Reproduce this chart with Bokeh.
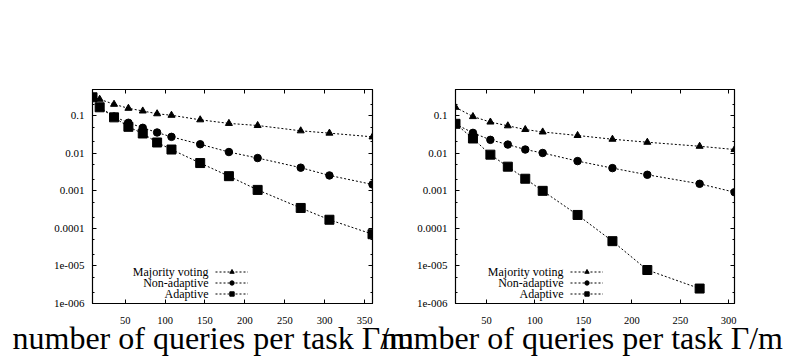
from bokeh.plotting import figure
from bokeh.layouts import row
from bokeh.models import (Label, Legend, LegendItem, FixedTicker, Title,
                          LogAxis, LinearAxis, Range1d)
from bokeh.embed import file_html
from bokeh.resources import INLINE

# ---- data: probability of error vs. number of queries per task ----
left_x = [9, 18, 36, 54, 72, 90, 108, 144, 180, 216, 270, 306, 360]
left_majority = [0.31, 0.275, 0.202, 0.158, 0.134, 0.113, 0.103, 0.078,
                 0.0625, 0.055, 0.0397, 0.0344, 0.0274]
left_nonadaptive = [0.31, 0.17, 0.095, 0.065, 0.0477, 0.0358, 0.0274, 0.0174,
                    0.0108, 0.00748, 0.00414, 0.00257, 0.00148]
left_adaptive = [0.31, 0.168, 0.0906, 0.0507, 0.0337, 0.0194, 0.0126, 0.0055,
                 0.00246, 0.00106, 0.00035, 0.00017, 7.0e-5]

right_x = [18, 36, 54, 72, 90, 108, 144, 180, 216, 270, 306]
right_majority = [0.168, 0.095, 0.068, 0.054, 0.043, 0.037, 0.0298, 0.0237,
                  0.0197, 0.0154, 0.0126]
right_nonadaptive = [0.06, 0.035, 0.0228, 0.0171, 0.0126, 0.0102, 0.0062,
                     0.00403, 0.00268, 0.00154, 0.00092]
right_adaptive_x = [18, 36, 54, 72, 90, 108, 144, 180, 216, 270]
right_adaptive = [0.061, 0.0248, 0.0092, 0.0044, 0.0021, 0.001, 0.000228,
                  4.57e-5, 7.8e-6, 2.5e-6]

series_names = ["Majority voting", "Non-adaptive", "Adaptive"]
left_xticks = [50, 100, 150, 200, 250, 300, 350]
right_xticks = [50, 100, 150, 200, 250, 300]
y_ticks = [1e-6, 1e-5, 1e-4, 1e-3, 1e-2, 1e-1]
y_tick_labels = ["1e-006", "1e-005", "0.0001", "0.001", "0.01", "0.1"]
y_minor = [m * 10.0 ** e for e in range(-6, 0) for m in (2, 5)]

ylabel_text = "probability of error"
xlabel_text = "number of queries per task \u0393/m"

SERIF = "Liberation Serif"
W, H = 792, 358


def panel(x_range, xticks, frame_left, frame_right, series, legend_x, xlabel_off):
    p = figure(width=W, height=H, x_range=Range1d(*x_range),
               y_range=Range1d(1e-6, 0.5), y_axis_type="log",
               output_backend="svg", toolbar_location=None,
               min_border_left=frame_left, min_border_right=W - frame_right,
               min_border_top=89, min_border_bottom=55)
    p.background_fill_color = None
    p.border_fill_color = None
    p.outline_line_color = "black"
    p.outline_line_width = 1.2
    p.xgrid.visible = False
    p.ygrid.visible = False

    def style(ax):
        ax.axis_line_color = "black"
        ax.major_tick_line_color = "black"
        ax.minor_tick_line_color = "black"
        ax.major_tick_in = 4
        ax.major_tick_out = 0
        ax.minor_tick_in = 2
        ax.minor_tick_out = 0
        ax.major_label_text_font = SERIF
        ax.major_label_text_color = "black"

    xa = p.xaxis[0]
    xa.ticker = FixedTicker(ticks=xticks, minor_ticks=[])
    style(xa)
    xa.major_label_text_font_size = "10.5px"
    xa.major_label_standoff = 13

    ya = p.yaxis[0]
    ya.ticker = FixedTicker(ticks=y_ticks, minor_ticks=y_minor)
    ya.major_label_overrides = {t: s for t, s in zip(y_ticks, y_tick_labels)}
    style(ya)
    ya.major_label_text_font_size = "11px"
    ya.major_label_standoff = 8

    # mirrored tick marks on the top and right edges, without labels
    top = LinearAxis(ticker=FixedTicker(ticks=xticks, minor_ticks=[]))
    style(top)
    top.major_label_overrides = {t: "" for t in xticks}
    top.major_label_standoff = 0
    p.add_layout(top, "above")
    right = LogAxis(ticker=FixedTicker(ticks=y_ticks, minor_ticks=y_minor))
    style(right)
    right.major_label_overrides = {t: "" for t in y_ticks}
    p.add_layout(right, "right")

    markers = ["triangle", "circle", "square"]
    sizes = [7, 7.5, 9]
    lines = [p.line(xs, ys, line_color="black", line_width=1, line_dash="2 2")
             for xs, ys in series]
    dots = [p.scatter(xs, ys, marker=mk, size=sz, fill_color="black",
                      line_color="black")
            for (xs, ys), mk, sz in zip(series, markers, sizes)]
    items = [LegendItem(label=" ", renderers=[ln, dt]) for ln, dt in zip(lines, dots)]

    legend = Legend(items=items, location=(legend_x, 4), padding=0, margin=0,
                    spacing=0, glyph_width=33, glyph_height=11,
                    label_standoff=0, label_width=0, label_height=11,
                    label_text_font_size="8px", border_line_color=None,
                    background_fill_alpha=0)
    p.add_layout(legend)

    row_y = [31.5, 20.5, 9.5]
    for name, ry in zip(series_names, row_y):
        p.add_layout(Label(x=legend_x - 7, y=ry, x_units="screen", y_units="screen",
                           text=name, text_align="right", text_baseline="middle",
                           text_font=SERIF, text_font_size="12px",
                           text_color="black"))

    # x caption below the panel
    p.add_layout(Title(text=xlabel_text, align="left", offset=xlabel_off,
                       text_font=SERIF, text_font_size="32px", text_font_style="normal",
                       text_color="black", standoff=-18), "below")
    return p


left = panel((9, 360), left_xticks, 92, 372,
             [(left_x, left_majority), (left_x, left_nonadaptive), (left_x, left_adaptive)],
             legend_x=123, xlabel_off=-80)
right = panel((18, 306), right_xticks, 455, 734,
              [(right_x, right_majority), (right_x, right_nonadaptive),
               (right_adaptive_x, right_adaptive)],
              legend_x=115, xlabel_off=-74)

# transparent layer carrying the y captions at the top of the page
captions = figure(width=W, height=H, x_range=Range1d(0, W), y_range=Range1d(0, H),
                  x_axis_type=None, y_axis_type=None, output_backend="svg",
                  toolbar_location=None, min_border=0)
captions.background_fill_color = None
captions.border_fill_color = None
captions.outline_line_color = None
captions.xgrid.visible = False
captions.ygrid.visible = False

for cx in (8, 245):
    captions.add_layout(Label(x=cx, y=301, x_units="screen", y_units="screen",
                              text=ylabel_text, text_align="left", text_baseline="top",
                              text_font=SERIF, text_font_size="20.5px",
                              text_color="black"))

# all three layers share the same canvas area; later ones are pulled back over the first
right.margin = (0, 0, 0, -W)
captions.margin = (0, 0, 0, -W)
layout = row(left, right, captions)

open("out.html", "w").write(file_html(layout, INLINE))
